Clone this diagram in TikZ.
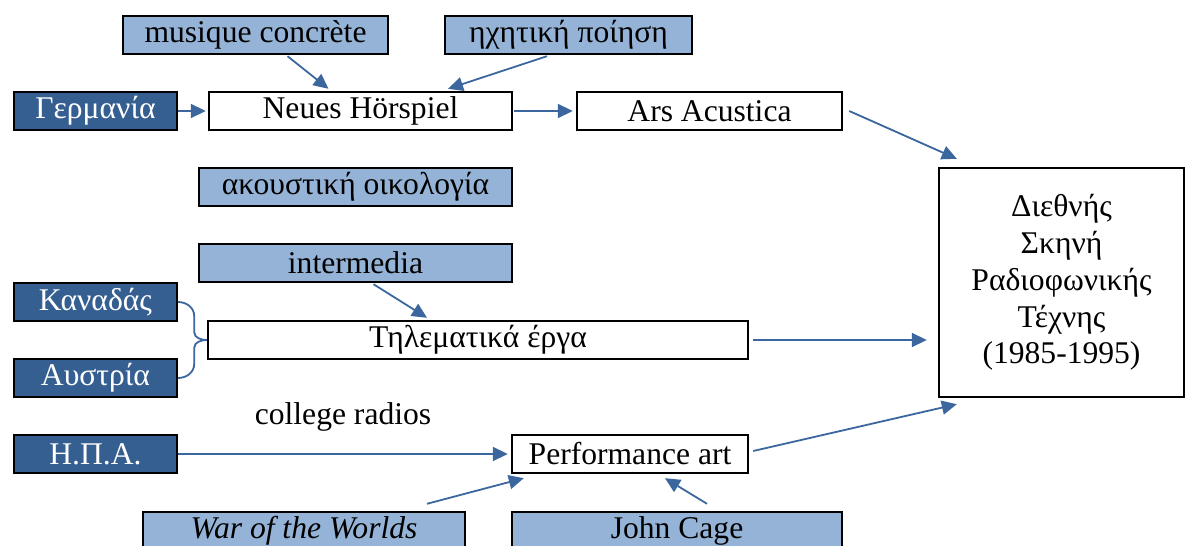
\documentclass[tikz,border=0pt]{standalone}
\usepackage{fontspec}
\setmainfont{Liberation Serif}
\usetikzlibrary{arrows.meta,calc}

\definecolor{darkblue}{HTML}{365F91}
\definecolor{lightblue}{HTML}{95B3D7}
\definecolor{linkblue}{HTML}{3C679E}

\begin{document}
\begin{tikzpicture}[
    x=0.5pt, y=-0.5pt,
    every node/.style={font=\fontsize{15.8}{18.4}\selectfont},
    box/.style={rectangle, draw=black, line width=1.2pt, inner sep=0pt,
                minimum height=19pt, align=center},
    country/.style={box, fill=darkblue, text=white, minimum width=81.5pt},
    source/.style={box, fill=lightblue},
    stage/.style={box, fill=white},
    link/.style={draw=linkblue, line width=0.9pt,
                 -{Triangle[length=7.5pt,width=7pt]}},
    brace/.style={draw=linkblue, line width=0.9pt},
]
    \useasboundingbox (0,0) rectangle (1186,545);
    \clip (0,0) rectangle (1186,545);

    % Sources (top)
    \node[source, minimum width=132.5pt] (musique) at (255.5,35) {musique concrète};
    \node[source, minimum width=123.5pt] (ichitiki) at (568.5,35) {ηχητική ποίηση};

    % Germany row
    \node[country] (germania) at (95.5,111) {Γερμανία};
    \node[stage, minimum width=151.5pt] (neues) at (360.5,111) {Neues Hörspiel};
    \node[stage, minimum width=132.5pt] (ars) at (709.5,111) {Ars Acustica};

    \node[source, minimum width=156.5pt] (oikologia) at (355.5,187) {ακουστική οικολογία};

    % Final
    \node[stage, minimum width=122.5pt, minimum height=114.5pt] (skini) at (1061.5,282.5)
        {Διεθνής\\Σκηνή\\Ραδιοφωνικής\\Τέχνης\\(1985-1995)};

    % Canada / Austria row
    \node[source, minimum width=156.5pt] (intermedia) at (355.5,263) {intermedia};
    \node[country] (kanadas) at (95.5,302) {Καναδάς};
    \node[stage, minimum width=270pt] (tilematika) at (478,340) {Τηλεματικά έργα};
    \node[country] (austria) at (95.5,378) {Αυστρία};

    % USA row
    \node (college) at (343,417) {college radios};
    \node[country] (ipa) at (95.5,454) {Η.Π.Α.};
    \node[stage, minimum width=118pt] (perf) at (630,454) {Performance art};
    \node[source, minimum width=161pt] (war) at (304,531) {\itshape War of the Worlds};
    \node[source, minimum width=165pt] (cage) at (677,531) {John Cage};

    % Arrows
    \draw[link] ($(musique.south)+(32,1)$) -- ($(neues.north)+(-32,-2)$);
    \draw[link] ($(ichitiki.south)+(-21.5,1)$) -- ($(neues.north)+(87.5,-2)$);
    \draw[link, shorten >=1pt] (germania.east) -- (neues.west);
    \draw[link, shorten <=0.5pt, shorten >=1.5pt] (neues.east) -- (ars.west);
    \draw[link] ($(ars.east)+(6,0)$) -- ($(skini.north west)+(19,-8)$);
    \draw[link] ($(intermedia.south)+(18,1)$) -- ($(tilematika.north)+(-51,-2)$);
    \draw[link, shorten <=2pt, shorten >=5.5pt] (tilematika.east) -- (tilematika.east -| skini.west);
    \draw[link, shorten >=1.5pt] (ipa.east) -- (perf.west);
    \draw[link] ($(perf.east)+(4,-3)$) -- ($(skini.south west)+(19,6)$);
    \draw[link] ($(war.north)+(123,-7)$) -- ($(perf.south west)+(13,4)$);
    \draw[link] ($(cage.north)+(30,-7)$) -- ($(perf.south)+(35,4)$);

    % Brace
    \draw[brace] (kanadas.east) to[out=0,in=90] ++(16,14) -- ++(0,16)
        to[out=-90,in=180] (tilematika.west);
    \draw[brace] (austria.east) to[out=0,in=-90] ++(16,-14) -- ++(0,-16)
        to[out=90,in=180] (tilematika.west);
\end{tikzpicture}
\end{document}
